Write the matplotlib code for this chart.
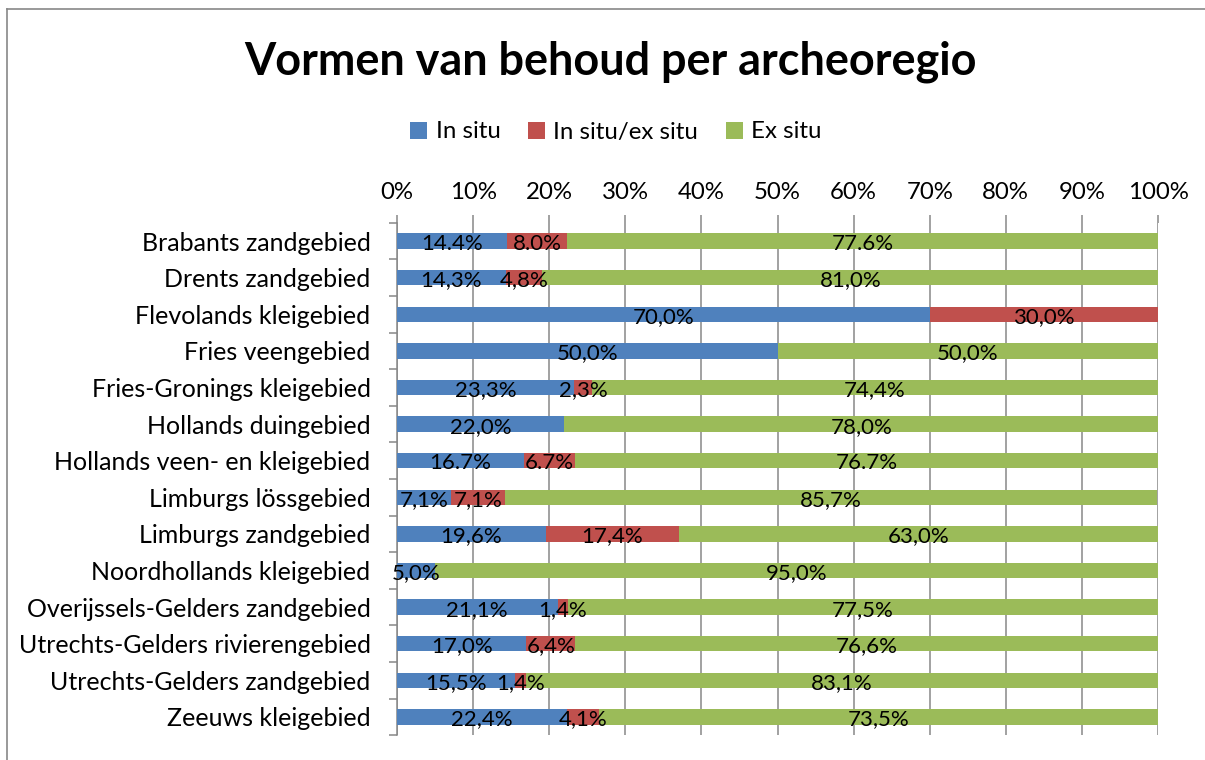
import matplotlib
matplotlib.use("Agg")
import matplotlib.pyplot as plt
from matplotlib.patches import Patch
from matplotlib.lines import Line2D
import numpy as np

categories = [
    "Brabants zandgebied",
    "Drents zandgebied",
    "Flevolands kleigebied",
    "Fries veengebied",
    "Fries-Gronings kleigebied",
    "Hollands duingebied",
    "Hollands veen- en kleigebied",
    "Limburgs lössgebied",
    "Limburgs zandgebied",
    "Noordhollands kleigebied",
    "Overijssels-Gelders zandgebied",
    "Utrechts-Gelders rivierengebied",
    "Utrechts-Gelders zandgebied",
    "Zeeuws kleigebied",
]
in_situ = [14.4, 14.3, 70.0, 50.0, 23.3, 22.0, 16.7, 7.1, 19.6, 5.0, 21.1, 17.0, 15.5, 22.4]
in_ex_situ = [8.0, 4.8, 30.0, 0.0, 2.3, 0.0, 6.7, 7.1, 17.4, 0.0, 1.4, 6.4, 1.4, 4.1]
ex_situ = [77.6, 81.0, 0.0, 50.0, 74.4, 78.0, 76.7, 85.7, 63.0, 95.0, 77.5, 76.6, 83.1, 73.5]
decimal_sep = [".", ",", ",", ",", ",", ",", ".", ",", ",", ",", ",", ",", ",", ","]
series_names = ["In situ", "In situ/ex situ", "Ex situ"]
colors = ["#4F81BD", "#C0504D", "#9BBB59"]
xticks = [0, 10, 20, 30, 40, 50, 60, 70, 80, 90, 100]

FONT = ["Lato", "DejaVu Sans"]
plt.rcParams["font.family"] = FONT
grid_col = "#878787"

W, H = 1205, 760
fig = plt.figure(figsize=(W / 100, H / 100), dpi=100)
ax = fig.add_axes([397 / W, 1 - 735.3 / H, (1158 - 397) / W, (735.3 - 222.7) / H])

y = np.arange(len(categories))
left = np.zeros(len(categories))
for vals, col, name in zip([in_situ, in_ex_situ, ex_situ], colors, series_names):
    vals = np.array(vals)
    ax.barh(y, vals, left=left, height=0.42, color=col, label=name, zorder=3)
    for i, v in enumerate(vals):
        if v > 0:
            txt = f"{v:.1f}".replace(".", decimal_sep[i]) + "%"
            ax.text(left[i] + v / 2, y[i] + 0.07, txt, ha="center", va="center",
                    fontsize=16, color="black", zorder=4)
    left = left + vals

ax.set_xlim(0, 100)
ax.set_ylim(len(categories) - 0.5, -0.5)
ax.set_xticks(xticks)
ax.set_xticklabels([f"{t}%" for t in xticks], fontsize=17.3)
ax.xaxis.tick_top()
ax.tick_params(axis="x", which="major", length=6, color=grid_col, width=1.1, pad=8)
ax.grid(axis="x", color=grid_col, linewidth=1.1, zorder=0)
ax.set_yticks(y)
ax.set_yticklabels(categories, fontsize=18)
ax.tick_params(axis="y", which="major", length=0, pad=19)
ax.set_yticks(np.arange(-0.5, len(categories), 1.0), minor=True)
ax.tick_params(axis="y", which="minor", length=6, color=grid_col, width=1.1)
for s in ["top", "right", "bottom"]:
    ax.spines[s].set_visible(False)
ax.spines["left"].set_color(grid_col)
ax.spines["left"].set_linewidth(1.1)

fig.suptitle("Vormen van behoud per archeoregio", x=611 / W, y=1 - 62 / H,
             va="center", fontsize=32.4, fontweight="bold")

handles = [Patch(facecolor=c, edgecolor="none") for c in colors]
fig.legend(handles, series_names, loc="center", bbox_to_anchor=(616 / W, 1 - 132 / H),
           ncol=3, frameon=False, fontsize=17.3, handlelength=0.7, handleheight=0.7,
           handletextpad=0.35, columnspacing=1.15)

fig.add_artist(Line2D([7 / W, 7 / W], [0, 1 - 9 / H], transform=fig.transFigure,
                      color=grid_col, linewidth=1.2))
fig.add_artist(Line2D([7 / W, 1], [1 - 9 / H, 1 - 9 / H], transform=fig.transFigure,
                      color=grid_col, linewidth=1.2))

fig.savefig("out.png", dpi=100)
